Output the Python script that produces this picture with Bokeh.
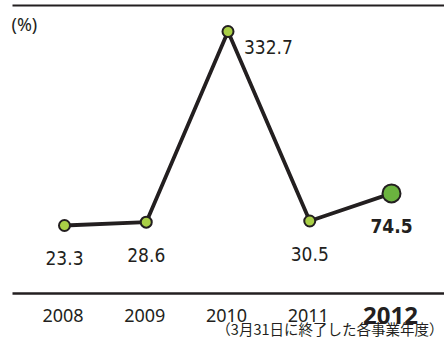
from bokeh.plotting import figure
from bokeh.models import ColumnDataSource, Range1d
from bokeh.core.properties import value
from bokeh.embed import file_html
from bokeh.resources import INLINE

# ---- data ----
years = [2008, 2009, 2010, 2011, 2012]
values = [23.3, 28.6, 332.7, 30.5, 74.5]
value_labels = ["23.3", "28.6", "332.7", "30.5", "74.5"]
year_labels = ["2008", "2009", "2010", "2011", "2012"]
unit_label = "(%)"
note_label = "（3月31日に終了した各事業年度）"

# ---- layout ----
W, H = 444, 338
X0, X1 = 2007.2171, 2012.6483
Y0, Y1 = -156.9, 382.1

def fx(px):
    return X0 + px / W * (X1 - X0)

def fy(py):
    return Y1 - py / H * (Y1 - Y0)

NARROW = "DejaVu Sans Condensed"
SANS = "Noto Sans"
CJK = "Noto Sans CJK JP"
INK = "#231f20"
LIGHT = "#a9cf46"
DARK = "#6bb33f"

p = figure(width=W, height=H, output_backend="svg", toolbar_location=None,
           x_range=Range1d(X0, X1), y_range=Range1d(Y0, Y1),
           min_border=0, outline_line_color=None)
p.axis.visible = False
p.grid.visible = False
p.background_fill_color = "white"
p.border_fill_color = "white"

# rules
p.segment(x0=[fx(12), fx(12)], x1=[fx(W), fx(W)], y0=[fy(5), fy(293)], y1=[fy(5), fy(293)],
          line_color=INK, line_width=[1.8, 2.6])

# series line
src = ColumnDataSource(dict(x=years, y=values))
p.line("x", "y", source=src, line_color=INK, line_width=3.8)

last = len(years) - 1
imax = values.index(max(values))
others = [i for i in range(len(years)) if i != last]
p.scatter([years[i] for i in others], [values[i] for i in others], size=11,
          fill_color=LIGHT, line_color=INK, line_width=2)
p.scatter([years[last]], [values[last]], size=18, fill_color=DARK, line_color=INK, line_width=2)

# value labels
below = [i for i in range(len(years)) if i not in (last, imax)]
p.text([years[i] for i in below], [values[i] for i in below], text=[value_labels[i] for i in below],
       text_font=value(NARROW), text_font_size="19px", text_color=INK,
       text_align="center", text_baseline="alphabetic", y_offset=33)
p.text([years[imax]], [values[imax]], text=[value_labels[imax]],
       text_font=value(NARROW), text_font_size="19px", text_color=INK,
       text_align="left", text_baseline="alphabetic", x_offset=16, y_offset=15.5)
p.text([years[last]], [values[last]], text=[value_labels[last]],
       text_font=value(NARROW), text_font_size="19px", text_font_style="bold", text_color=INK,
       text_align="center", text_baseline="alphabetic", y_offset=33)

# year labels
p.text(years[:last], [fy(314.5)] * last, text=year_labels[:last],
       text_font=value(SANS), text_font_size="18px", text_color=INK,
       text_align="center", text_baseline="alphabetic", x_offset=-1.5)
p.text([years[last]], [fy(315)], text=[year_labels[last]],
       text_font=value(SANS), text_font_size="24px", text_font_style="bold", text_color=INK,
       text_align="center", text_baseline="alphabetic", x_offset=-1)

# unit and note
p.text([fx(11)], [fy(23.5)], text=[unit_label], text_font=value(SANS), text_font_size="18px",
       text_color=INK, text_align="left", text_baseline="middle")
p.text([fx(443)], [fy(328)], text=[note_label], text_font=value(CJK), text_font_size="14.5px",
       text_color=INK, text_align="right", text_baseline="middle")

open("out.html", "w").write(file_html(p, INLINE))
